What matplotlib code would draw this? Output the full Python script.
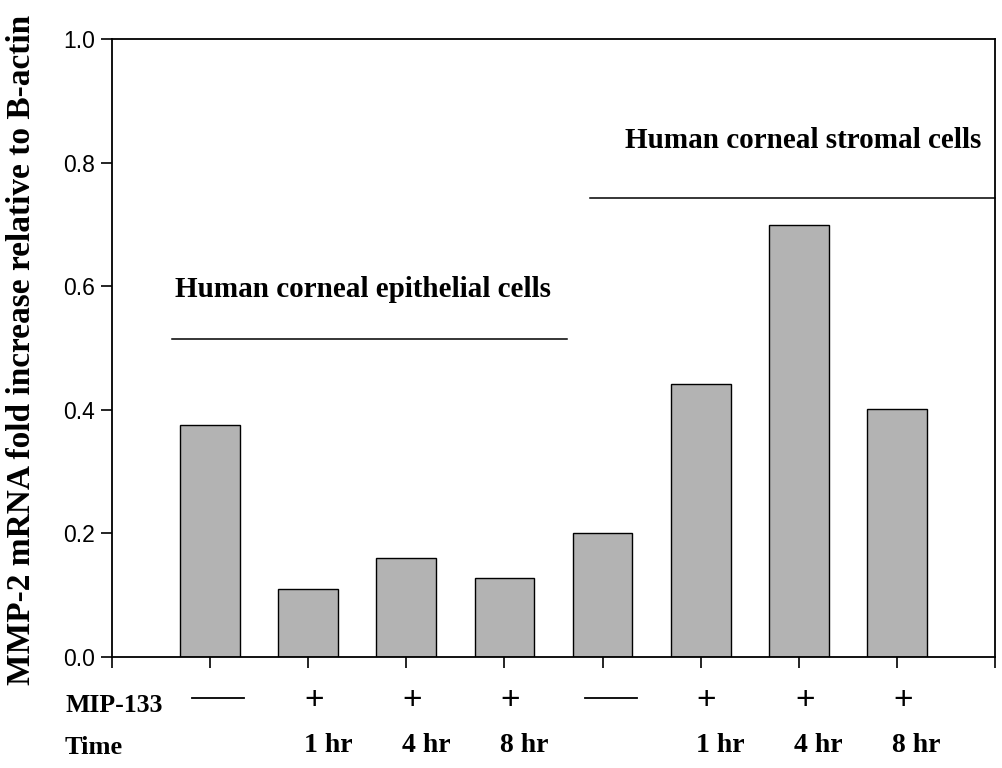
import numpy as np
import matplotlib
matplotlib.use("Agg")
import matplotlib.pyplot as plt
import matplotlib.transforms as mtransforms

# data
positions = [1, 2, 3, 4, 5, 6, 7, 8]
values = [0.376, 0.110, 0.160, 0.128, 0.201, 0.442, 0.699, 0.402]
mip_marks = ["\u2014", "+", "+", "+", "\u2014", "+", "+", "+"]
time_labels = ["", "1 hr", "4 hr", "8 hr", "", "1 hr", "4 hr", "8 hr"]
y_ticks = [0.0, 0.2, 0.4, 0.6, 0.8, 1.0]

groups = ["Human corneal epithelial cells", "Human corneal stromal cells"]
group_line_x = [(0.61, 4.64), (4.87, 9.0)]
group_line_y = [0.515, 0.742]
group_text_x = [0.64, 5.23]
group_text_y = [0.595, 0.835]

serif = "Liberation Serif"
sans = "Liberation Sans"

fig = plt.figure(figsize=(10.02, 7.68), dpi=100)
ax = fig.add_axes([112 / 1002, 1 - 657 / 768, (995 - 112) / 1002, (657 - 39) / 768])

ax.bar(positions, values, width=0.61, color="#b3b3b3", edgecolor="black", linewidth=1.0)

ax.set_xlim(0, 9)
ax.set_ylim(0, 1.0)
ax.set_yticks(y_ticks)
ax.set_yticklabels([f"{v:.1f}" for v in y_ticks], fontfamily=sans, fontsize=16.5)
ax.set_xticks([0] + positions + [9])
ax.set_xticklabels([])
ax.tick_params(direction="out", length=8, width=1.2, pad=4)
for s in ax.spines.values():
    s.set_linewidth(1.3)

# group annotations
for name, (x0, x1), ly, tx, ty in zip(groups, group_line_x, group_line_y, group_text_x, group_text_y):
    ax.plot([x0, x1], [ly, ly], color="black", linewidth=1.1, clip_on=False)
    ax.text(tx, ty, name, fontfamily=serif, fontweight="bold", fontsize=21, ha="left", va="center")

# treatment rows below the axis
trans = mtransforms.blended_transform_factory(ax.transData, fig.transFigure)
for p, m, t in zip(positions, mip_marks, time_labels):
    if m == "+":
        ax.text(p + 0.06, 1 - 701 / 768, m, transform=trans, fontfamily=sans, fontsize=24,
                ha="center", va="center")
    else:
        ax.plot([p - 0.18, p + 0.35], [1 - 698 / 768] * 2, transform=trans, color="black",
                linewidth=1.3, clip_on=False)
    if t:
        ax.text(p + 0.2, 1 - 746 / 768, t, transform=trans, fontfamily=serif, fontweight="bold",
                fontsize=20, ha="center", va="center")

fig.text(65 / 1002, 1 - 706 / 768, "MIP-133", fontfamily=serif, fontweight="bold", fontsize=18.5,
         ha="left", va="center")
fig.text(65 / 1002, 1 - 748 / 768, "Time", fontfamily=serif, fontweight="bold", fontsize=19,
         ha="left", va="center")

fig.text(22 / 1002, 1 - 350 / 768, "MMP-2 mRNA fold increase relative to B-actin",
         fontfamily=serif, fontweight="bold", fontsize=24, rotation=90, ha="center", va="center")

fig.savefig("out.png", dpi=100)
